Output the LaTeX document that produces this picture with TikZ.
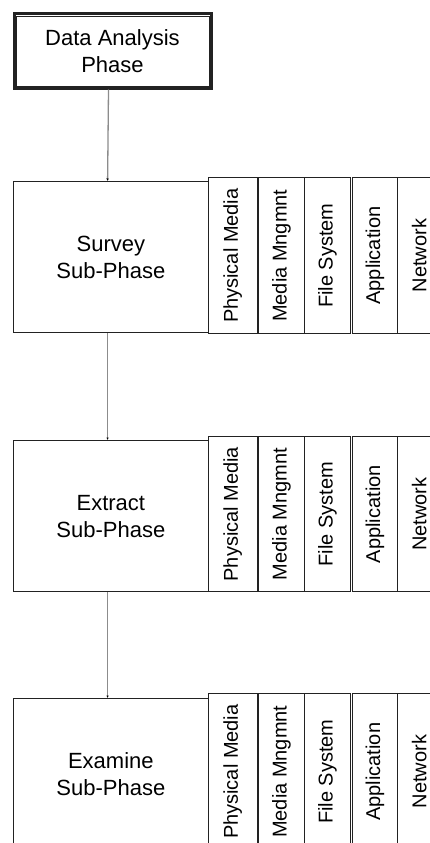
\documentclass[tikz,border=0pt]{standalone}
\usepackage{fontspec}
\setmainfont{Liberation Sans}
\usetikzlibrary{arrows.meta}
\definecolor{edge}{HTML}{222222}
\definecolor{conn}{HTML}{8C8C8C}
\tikzset{
  mainbox/.style={draw=edge, line width=1.2pt, anchor=north west, align=center,
    inner sep=0pt, font=\fontsize{22}{27}\selectfont},
  topbox/.style={draw=edge, line width=3pt, anchor=north west, align=center,
    inner sep=0pt, font=\fontsize{22}{27}\selectfont},
  stripbox/.style={draw=edge, line width=1.3pt, anchor=north west, inner sep=0pt},
  striptext/.style={rotate=90, font=\fontsize{20}{24}\selectfont, inner sep=0pt},
  conline/.style={draw=conn, line width=1.3pt, -{Latex[length=2.5pt,width=2.5pt,color=black]}}
}
\begin{document}
\begin{tikzpicture}[x=1pt,y=1pt]
\useasboundingbox (0,0) rectangle (430,-843);
\clip (0,0) rectangle (430,-843);
\fill[white] (0,0) rectangle (430,-843);
% top box
\node[topbox, minimum width=197pt, minimum height=74pt] (top) at (12.5,-12.5) {Data Analysis\\Phase};
\draw[edge, line width=0.8pt] ([shift={(3.5pt,-3.5pt)}]top.north west) rectangle ([shift={(-3.5pt,3.5pt)}]top.south east);
% sub-phase boxes
\node[mainbox, minimum width=194.5pt, minimum height=151pt] (survey) at (13,-181) {Survey\\Sub-Phase};
\node[mainbox, minimum width=194.5pt, minimum height=151pt] (extract) at (13,-440) {Extract\\Sub-Phase};
\node[mainbox, minimum width=194.5pt, minimum height=151pt] (examine) at (13,-698) {Examine\\Sub-Phase};
% strips
\foreach \n/\y/\h in {s/177/156, e/436/155, x/693/156}{
  \node[stripbox, minimum width=49pt, minimum height=\h pt] (\n1) at (207.5,-\y) {};
  \node[stripbox, minimum width=45.5pt, minimum height=\h pt] (\n2) at (258,-\y) {};
  \node[stripbox, minimum width=46.5pt, minimum height=\h pt] (\n3) at (303.5,-\y) {};
  \node[stripbox, minimum width=44.5pt, minimum height=\h pt] (\n4) at (352,-\y) {};
  \node[stripbox, minimum width=44pt, minimum height=\h pt] (\n5) at (396.5,-\y) {};
  \node[striptext] (\n1t) at (\n1.center) {Physical Media};
  \node[striptext] (\n2t) at (\n2.center) {Media Mngmnt};
  \node[striptext] (\n3t) at (\n3.center) {File System};
  \node[striptext] (\n4t) at (\n4.center) {Application};
  \node[striptext] (\n5t) at (\n5.center) {Network};
}
% connectors
\draw[conline] ([xshift=-4pt]top.south) -- ([xshift=-3.25pt]survey.north);
\draw[conline] ([xshift=-3.25pt]survey.south) -- ([xshift=-3.25pt]extract.north);
\draw[conline] ([xshift=-3.25pt]extract.south) -- ([xshift=-3.25pt]examine.north);
\end{tikzpicture}
\end{document}
